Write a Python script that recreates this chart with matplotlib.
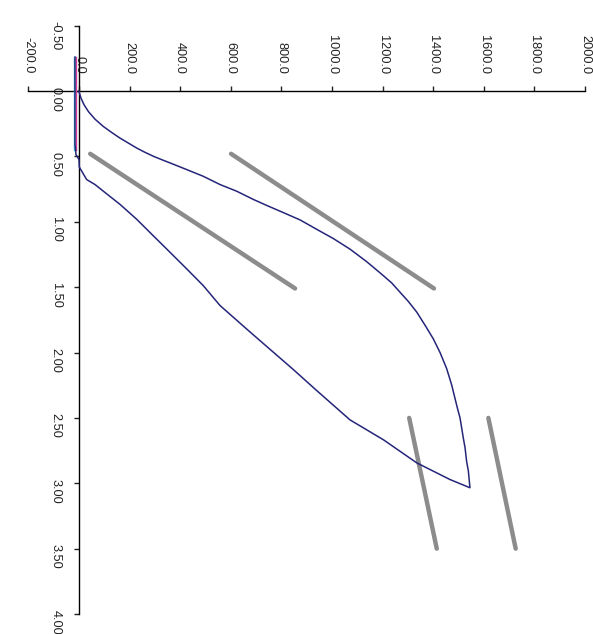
import numpy as np
import matplotlib
matplotlib.use("Agg")
import matplotlib.pyplot as plt

plt.rcParams['font.family'] = ['Liberation Sans', 'DejaVu Sans']

# loading branch (displacement, load)
up_disp = [0.0, 0.013, 0.056, 0.106, 0.157, 0.215, 0.271, 0.317, 0.360, 0.398,
           0.436, 0.469, 0.499, 0.525, 0.550, 0.601, 0.652, 0.715, 0.766, 0.829,
           0.875, 0.930, 0.986, 1.057, 1.128, 1.209, 1.305, 1.412, 1.468, 1.539,
           1.610, 1.691, 1.792, 1.894, 2.000, 2.122, 2.248, 2.350, 2.420, 2.500,
           2.654, 2.730, 2.832, 2.907, 3.030]
up_load = [0, 1, 8, 20, 37, 63, 96, 129, 162, 195,
           228, 261, 294, 327, 360, 426, 491, 557, 623, 689,
           742, 808, 874, 939, 1005, 1071, 1137, 1203, 1236, 1269,
           1302, 1335, 1368, 1400, 1427, 1453, 1473, 1486, 1495, 1506,
           1519, 1526, 1532, 1539, 1545]

# unloading branch
dn_disp = [3.034, 2.971, 2.844, 2.667, 2.515, 2.290, 2.130,
           1.843, 1.640, 1.488, 1.361, 1.234, 1.108, 0.981, 0.867, 0.766,
           0.715, 0.677, 0.581, 0.525, 0.487, 0.41, -0.26]
dn_load = [1545, 1466, 1335, 1203, 1071, 939, 847,
           676, 557, 491, 426, 360, 294, 228, 162, 96,
           63, 30, 1, 0, -12, -16, -16]

# reference slope lines
ref_disp = [[0.48, 1.51], [0.48, 1.51], [2.5, 3.5], [2.5, 3.5]]
ref_load = [[44, 854], [601, 1403], [1305, 1414], [1618, 1726]]

# small near-zero series
zero_disp = [-0.26, 0.45]
pink_load = [-11, -11]
cyan_load = [-21, -21]

xticks = [-200, 0, 200, 400, 600, 800, 1000, 1200, 1400, 1600, 1800, 2000]
yticks = [-0.5, 0.0, 0.5, 1.0, 1.5, 2.0, 2.5, 3.0, 3.5, 4.0]

fig = plt.figure(figsize=(5.93, 6.34), dpi=100)
ax = fig.add_axes([0.048, 0.0315, 0.9385, 0.928])

for d, l in zip(ref_disp, ref_load):
    ax.plot(l, d, color='#8c8c8c', lw=3.2, solid_capstyle='round', zorder=2)

ax.plot(cyan_load, zero_disp, color='#40b8e0', lw=1.0, zorder=3)
ax.plot(pink_load, zero_disp, color='#d0409a', lw=1.0, zorder=3)
ax.plot(up_load + dn_load, up_disp + dn_disp, color='#25257a', lw=1.1, zorder=4)

ax.set_xlim(-200, 2000)
ax.set_ylim(4.0, -0.5)

for s in ['right', 'bottom']:
    ax.spines[s].set_visible(False)
ax.spines['left'].set_position(('data', 0))
ax.spines['top'].set_position(('data', 0))
ax.spines['left'].set_linewidth(1.0)
ax.spines['top'].set_linewidth(1.0)

ax.xaxis.tick_top()
ax.yaxis.tick_left()
ax.set_xticks(xticks)
ax.set_yticks(yticks)
ax.set_xticklabels(["{:.1f}".format(v) for v in xticks], rotation=270)
ax.set_yticklabels(["{:.2f}".format(v) for v in yticks], rotation=270)
ax.tick_params(axis='both', direction='out', length=3.5, width=1.0,
               labelsize=9.2, pad=9, colors='#222222')

fig.savefig("out.png", dpi=100, facecolor='white')
